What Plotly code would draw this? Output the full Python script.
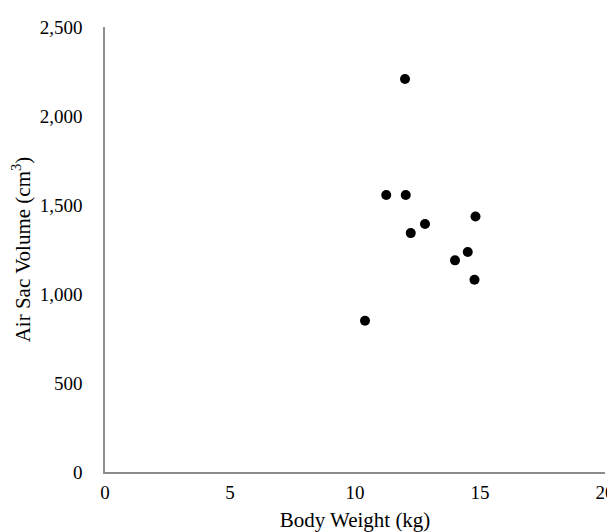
import plotly.graph_objects as go

body_weight = [12.0, 11.25, 12.03, 14.82, 12.8, 12.23, 14.51, 14.0, 14.78, 10.4]
air_sac_volume = [2208, 1556, 1556, 1435, 1393, 1342, 1236, 1189, 1080, 850]

x_ticks = [0, 5, 10, 15, 20]
y_ticks = [0, 500, 1000, 1500, 2000, 2500]

font_family = "Liberation Serif, Times New Roman, serif"

fig = go.Figure(go.Scatter(
    x=body_weight, y=air_sac_volume, mode="markers",
    marker=dict(color="black", size=10),
    cliponaxis=False,
))

# page body has an 8px default margin, so the figure is offset by 8px
fig.update_layout(
    width=607, height=524,
    margin=dict(l=97, r=10, t=19, b=60),
    paper_bgcolor="white", plot_bgcolor="white",
    font=dict(family=font_family, color="black", size=19),
    showlegend=False,
)
fig.update_xaxes(
    range=[0, 20], tickvals=x_ticks, ticktext=[str(v) for v in x_ticks],
    showgrid=False, zeroline=False, showline=True, linecolor="#8c8c8c", linewidth=1.5,
    ticks="outside", ticklen=2, tickcolor="rgba(0,0,0,0)",
    tickfont=dict(size=19), automargin=False, ticklabeloverflow="allow",
    title=dict(text="Body Weight (kg)", font=dict(size=21), standoff=13),
)
fig.update_yaxes(
    range=[0, 2500], tickvals=y_ticks, ticktext=[f"{v:,}" for v in y_ticks],
    showgrid=False, zeroline=False, showline=True, linecolor="#8c8c8c", linewidth=1.5,
    ticks="outside", ticklen=17, tickcolor="rgba(0,0,0,0)",
    tickfont=dict(size=19), automargin=False, ticklabeloverflow="allow",
    title=dict(text="Air Sac Volume (cm<sup>3</sup>)", font=dict(size=21), standoff=6),
)

fig.write_html("out.html")
